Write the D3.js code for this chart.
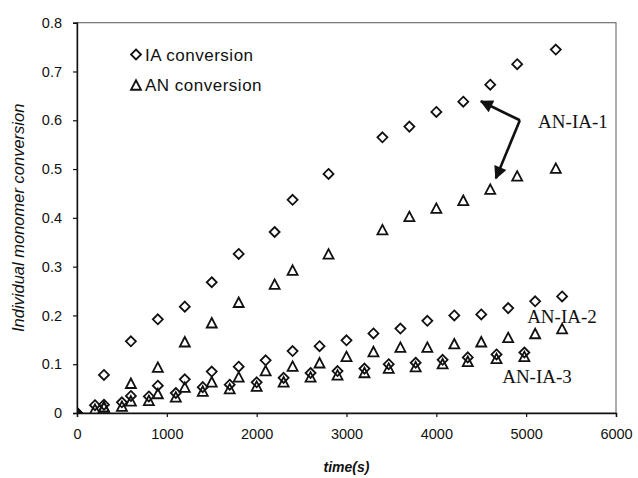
<!DOCTYPE html>
<html>
<head>
<meta charset="utf-8">
<script src="https://cdn.jsdelivr.net/npm/d3@7"></script>
<style>
  html, body { margin: 0; padding: 0; background: #fff; }
  svg { display: block; }
</style>
</head>
<body>
<svg id="chart" width="638" height="478"></svg>
<script>
// Polymerisation runs: conversion of itaconic acid (IA) and acrylonitrile (AN) vs time
const time1 = [0, 300, 600, 900, 1200, 1500, 1800, 2200, 2400, 2800, 3400, 3700, 4000, 4300, 4600, 4900, 5330];
const ia1   = [0, 0.078, 0.147, 0.192, 0.218, 0.268, 0.326, 0.371, 0.437, 0.490, 0.565, 0.587, 0.617, 0.638, 0.673, 0.715, 0.745];
const an1   = [0, 0.013, 0.061, 0.094, 0.146, 0.185, 0.227, 0.264, 0.293, 0.326, 0.376, 0.403, 0.420, 0.436, 0.459, 0.486, 0.502];

const time2 = [0, 300, 600, 900, 1200, 1500, 1800, 2100, 2400, 2700, 3000, 3300, 3600, 3900, 4200, 4500, 4800, 5100, 5400];
const ia2   = [0, 0.017, 0.035, 0.056, 0.069, 0.085, 0.095, 0.108, 0.127, 0.137, 0.149, 0.163, 0.173, 0.189, 0.200, 0.202, 0.215, 0.229, 0.239];
const an2   = [0, 0.012, 0.025, 0.040, 0.053, 0.064, 0.074, 0.087, 0.096, 0.103, 0.116, 0.126, 0.135, 0.135, 0.142, 0.146, 0.155, 0.163, 0.173];

const time3 = [0, 200, 500, 800, 1100, 1400, 1700, 2000, 2300, 2600, 2900, 3200, 3470, 3770, 4070, 4350, 4670, 4980];
const ia3   = [0, 0.016, 0.022, 0.034, 0.041, 0.053, 0.058, 0.063, 0.072, 0.082, 0.086, 0.091, 0.100, 0.103, 0.109, 0.114, 0.120, 0.124];
const an3   = [0, 0.008, 0.014, 0.026, 0.033, 0.045, 0.050, 0.055, 0.064, 0.074, 0.078, 0.083, 0.092, 0.095, 0.101, 0.106, 0.112, 0.116];

const xTicks = [0, 1000, 2000, 3000, 4000, 5000, 6000];
const xTickLabels = ["0", "1000", "2000", "3000", "4000", "5000", "6000"];
const yTicks = [0, 0.1, 0.2, 0.3, 0.4, 0.5, 0.6, 0.7, 0.8];
const yTickLabels = ["0", "0.1", "0.2", "0.3", "0.4", "0.5", "0.6", "0.7", "0.8"];

const legendLabels = ["IA conversion", "AN conversion"];
const runLabels = ["AN-IA-1", "AN-IA-2", "AN-IA-3"];
// label anchors in data units [time, conversion]
const runLabelPos = [[5133, 0.585], [5011, 0.185], [4733, 0.062]];
// arrow from label to the two AN-IA-1 curves
const arrowFrom = [4930, 0.600];
const arrowTo = [[4497, 0.639], [4663, 0.481]];

const svg = d3.select("#chart");
const W = 638, H = 478;
const m = { left: 77, right: 22, top: 22.7, bottom: 65 };
const x = d3.scaleLinear().domain([0, 6000]).range([m.left, W - m.right]);
const y = d3.scaleLinear().domain([0, 0.8]).range([H - m.bottom, m.top]);

const sans = "'Liberation Sans', Arial, Helvetica, sans-serif";

// plot frame (top and right in grey)
svg.append("rect")
  .attr("x", x(0)).attr("y", y(0.8))
  .attr("width", x(6000) - x(0)).attr("height", y(0) - y(0.8))
  .attr("fill", "none").attr("stroke", "#666").attr("stroke-width", 1.1);

const defs = svg.append("defs");
defs.append("clipPath").attr("id", "plotClip")
  .append("rect")
  .attr("x", x(0)).attr("y", y(0.8))
  .attr("width", x(6000) - x(0)).attr("height", y(0) - y(0.8));

// axes
const xAxis = d3.axisBottom(x).tickValues(xTicks)
  .tickFormat((d, i) => xTickLabels[i]).tickSize(4).tickPadding(12);
const yAxis = d3.axisLeft(y).tickValues(yTicks)
  .tickFormat((d, i) => yTickLabels[i]).tickSize(4).tickPadding(11);

const gx = svg.append("g").attr("transform", `translate(0,${y(0)})`).call(xAxis);
const gy = svg.append("g").attr("transform", `translate(${x(0)},0)`).call(yAxis);
[gx, gy].forEach(g => {
  g.select(".domain").attr("stroke", "#111").attr("stroke-width", 1.4);
  g.selectAll(".tick line").attr("stroke", "#111").attr("stroke-width", 1.2);
  g.selectAll(".tick text")
    .attr("font-family", sans)
    .attr("font-size", 14.5).attr("fill", "#111");
});

// axis titles
svg.append("text")
  .attr("x", x(3000)).attr("y", 472)
  .attr("text-anchor", "middle")
  .attr("font-family", sans)
  .attr("font-size", 14).attr("font-style", "italic").attr("font-weight", "bold")
  .attr("fill", "#111")
  .text("time(s)");

svg.append("text")
  .attr("transform", `translate(24,${y(0.4)}) rotate(-90)`)
  .attr("text-anchor", "middle")
  .attr("font-family", sans)
  .attr("font-size", 16.5).attr("font-style", "italic")
  .attr("fill", "#111")
  .text("Individual monomer conversion");

// marker shapes
const diamond = {
  draw(ctx, size) {
    const r = Math.sqrt(size) / 2;
    ctx.moveTo(0, -r); ctx.lineTo(r, 0); ctx.lineTo(0, r); ctx.lineTo(-r, 0); ctx.closePath();
  }
};
const triangle = {
  draw(ctx, size) {
    const s = Math.sqrt(size);
    const h = s * 0.95;
    ctx.moveTo(0, -h / 2); ctx.lineTo(s / 2, h / 2); ctx.lineTo(-s / 2, h / 2); ctx.closePath();
  }
};
const diamondPath = d3.symbol().type(diamond).size(100)();
const trianglePath = d3.symbol().type(triangle).size(100)();

const series = [
  { t: time1, v: ia1, shape: diamondPath },
  { t: time1, v: an1, shape: trianglePath },
  { t: time2, v: ia2, shape: diamondPath },
  { t: time2, v: an2, shape: trianglePath },
  { t: time3, v: ia3, shape: diamondPath },
  { t: time3, v: an3, shape: trianglePath }
];

const plot = svg.append("g").attr("clip-path", "url(#plotClip)");
series.forEach(s => {
  plot.append("g").selectAll("path")
    .data(s.t.map((t, i) => [t, s.v[i]]))
    .join("path")
    .attr("d", s.shape)
    .attr("transform", d => `translate(${x(d[0])},${y(d[1])})`)
    .attr("fill", "none").attr("stroke", "#111").attr("stroke-width", 1.8);
});

// legend
const legend = svg.append("g");
const legendShapes = [diamondPath, trianglePath];
legendLabels.forEach((lab, i) => {
  const ly = 54.5 + i * 30.5;
  legend.append("path").attr("d", legendShapes[i])
    .attr("transform", `translate(136,${ly})`)
    .attr("fill", "none").attr("stroke", "#111").attr("stroke-width", 1.8);
  legend.append("text")
    .attr("x", 145).attr("y", ly + 6)
    .attr("font-family", sans)
    .attr("font-size", 17).attr("letter-spacing", 0.5).attr("fill", "#111")
    .text(lab);
});

// run labels
runLabels.forEach((lab, i) => {
  svg.append("text")
    .attr("x", x(runLabelPos[i][0])).attr("y", y(runLabelPos[i][1]))
    .attr("font-family", "'Liberation Serif', 'Times New Roman', serif")
    .attr("font-size", 19).attr("fill", "#111")
    .text(lab);
});

// arrows
defs.append("marker")
  .attr("id", "head").attr("viewBox", "0 0 10 10")
  .attr("refX", 9).attr("refY", 5)
  .attr("markerWidth", 5.5).attr("markerHeight", 5)
  .attr("orient", "auto")
  .append("path").attr("d", "M0,0 L10,5 L0,10 Z").attr("fill", "#111");

arrowTo.forEach(p => {
  svg.append("line")
    .attr("x1", x(arrowFrom[0])).attr("y1", y(arrowFrom[1]))
    .attr("x2", x(p[0])).attr("y2", y(p[1]))
    .attr("stroke", "#111").attr("stroke-width", 2.6)
    .attr("marker-end", "url(#head)");
});
</script>
</body>
</html>
